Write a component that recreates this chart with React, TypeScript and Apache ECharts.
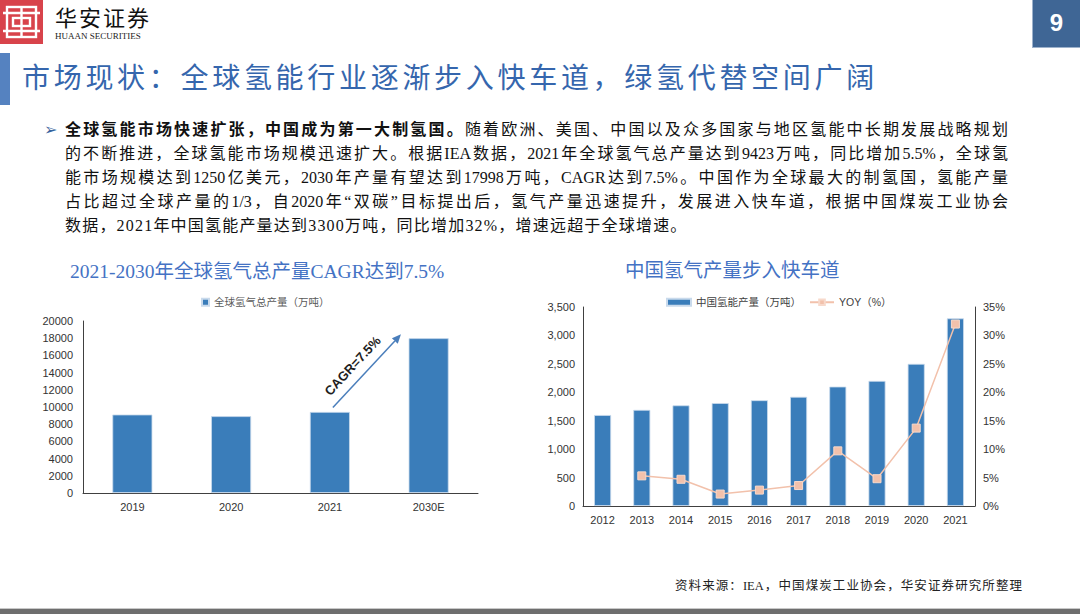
import React, { useEffect, useRef } from "react";
import * as echarts from "echarts";

// ---------- data ----------
const globalYears = ["2019", "2020", "2021", "2030E"];
const globalOutput = [9120, 8930, 9423, 17998];
const globalSeriesName = "全球氢气总产量（万吨）";

const chinaYears = ["2012", "2013", "2014", "2015", "2016", "2017", "2018", "2019", "2020", "2021"];
const chinaOutput = [1600, 1690, 1770, 1810, 1860, 1920, 2100, 2200, 2500, 3300];
const chinaYoy: (number | null)[] = [null, 5.3, 4.7, 2.1, 2.8, 3.6, 9.7, 4.8, 13.7, 32.0];
const chinaBarName = "中国氢能产量（万吨）";
const chinaLineName = "YOY（%）";

const leftAxisRange = { min: 0, max: 20000, interval: 2000 };
const chinaAxisRange = { min: 0, max: 3500, interval: 500 };
const yoyAxisRange = { min: 0, max: 35, interval: 5 };

const cagrLabel = "CAGR=7.5%";

const paragraphLines = [
  "的不断推进，全球氢能市场规模迅速扩大。根据IEA数据，2021年全球氢气总产量达到9423万吨，同比增加5.5%，全球氢",
  "能市场规模达到1250亿美元，2030年产量有望达到17998万吨，CAGR达到7.5%。中国作为全球最大的制氢国，氢能产量",
  "占比超过全球产量的1/3，自2020年“双碳”目标提出后，氢气产量迅速提升，发展进入快车道，根据中国煤炭工业协会",
];
const paragraphBold = "全球氢能市场快速扩张，中国成为第一大制氢国。";
const paragraphFirstRest = "随着欧洲、美国、中国以及众多国家与地区氢能中长期发展战略规划";
const paragraphLast = "数据，2021年中国氢能产量达到3300万吨，同比增加32%，增速远超于全球增速。";

const pageTitle = "市场现状：全球氢能行业逐渐步入快车道，绿氢代替空间广阔";
const leftChartTitle = "2021-2030年全球氢气总产量CAGR达到7.5%";
const rightChartTitle = "中国氢气产量步入快车道";
const sourceNote = "资料来源：IEA，中国煤炭工业协会，华安证券研究所整理";

// ---------- styles ----------
const SERIF = '"Liberation Serif", "Noto Sans CJK SC", serif';
const SANS = '"Liberation Sans", "Noto Sans CJK SC", sans-serif';
const BAR_COLOR = "#3A7DBA";
const LINE_COLOR = "#F2C1AB";
const TITLE_BLUE = "#4472C4";

export default function App() {
  const ref = useRef<HTMLDivElement>(null);

  useEffect(() => {
    document.body.style.margin = "0";
    if (!ref.current) return;
    const chart = echarts.init(ref.current, undefined, { renderer: "svg" });

    const axisLineStyle = { lineStyle: { color: "#404040", width: 1 } };
    const labelStyle = { color: "#333333", fontSize: 11, fontFamily: SANS };

    chart.setOption({
      animation: false,
      backgroundColor: "transparent",
      title: [
        {
          text: leftChartTitle,
          left: 65,
          top: 257,
          textStyle: { color: TITLE_BLUE, fontSize: 19.5, fontWeight: "normal", fontFamily: SERIF },
        },
        {
          text: rightChartTitle,
          left: 620,
          top: 256,
          textStyle: { color: TITLE_BLUE, fontSize: 19.5, fontWeight: "normal", fontFamily: SERIF },
        },
      ],
      legend: [
        {
          data: [{ name: globalSeriesName, icon: "rect" }],
          left: 196,
          top: 292,
          itemWidth: 7,
          itemHeight: 7,
          itemGap: 4,
          textStyle: { color: "#595959", fontSize: 10.5, fontFamily: SERIF },
        },
        {
          data: [{ name: chinaBarName, icon: "rect" }, { name: chinaLineName }],
          left: 661,
          top: 292,
          itemWidth: 24,
          itemHeight: 7,
          itemGap: 8,
          textStyle: { color: "#404040", fontSize: 10.5, fontFamily: SANS },
        },
      ],
      grid: [
        { left: 83, top: 321, width: 395, height: 172 },
        { left: 583, top: 307, width: 392, height: 199 },
      ],
      xAxis: [
        {
          type: "category",
          gridIndex: 0,
          data: globalYears,
          axisLine: axisLineStyle,
          axisTick: { inside: true, length: 4, lineStyle: { color: "#404040" } },
          axisLabel: { ...labelStyle, margin: 8 },
        },
        {
          type: "category",
          gridIndex: 1,
          data: chinaYears,
          axisLine: axisLineStyle,
          axisTick: { inside: true, length: 4, lineStyle: { color: "#404040" } },
          axisLabel: { ...labelStyle, margin: 8 },
        },
      ],
      yAxis: [
        {
          type: "value",
          gridIndex: 0,
          ...leftAxisRange,
          axisLine: { show: true, ...axisLineStyle },
          axisTick: { show: false },
          splitLine: { show: false },
          axisLabel: { ...labelStyle, margin: 10, formatter: (v: number) => String(v) },
        },
        {
          type: "value",
          gridIndex: 1,
          ...chinaAxisRange,
          axisLine: { show: true, ...axisLineStyle },
          axisTick: { show: false },
          splitLine: { show: false },
          axisLabel: {
            ...labelStyle,
            margin: 8,
            formatter: (v: number) => v.toLocaleString("en-US"),
          },
        },
        {
          type: "value",
          gridIndex: 1,
          position: "right",
          ...yoyAxisRange,
          axisLine: { show: true, ...axisLineStyle },
          axisTick: { show: false },
          splitLine: { show: false },
          axisLabel: { ...labelStyle, margin: 8, formatter: "{value}%" },
        },
      ],
      series: [
        {
          type: "bar",
          name: globalSeriesName,
          xAxisIndex: 0,
          yAxisIndex: 0,
          data: globalOutput,
          barWidth: 40,
          itemStyle: { color: BAR_COLOR, borderColor: "#C9DAEC", borderWidth: 0.8 },
        },
        {
          type: "bar",
          name: chinaBarName,
          xAxisIndex: 1,
          yAxisIndex: 1,
          data: chinaOutput,
          barWidth: 17,
          itemStyle: { color: BAR_COLOR, borderColor: "#C9DAEC", borderWidth: 0.8 },
        },
        {
          type: "line",
          name: chinaLineName,
          xAxisIndex: 1,
          yAxisIndex: 2,
          data: chinaYoy,
          symbol: "rect",
          symbolSize: 8,
          z: 5,
          lineStyle: { color: LINE_COLOR, width: 1.5 },
          itemStyle: { color: LINE_COLOR, borderColor: "#F7D9CB", borderWidth: 1 },
        },
      ],
    });

    // CAGR arrow annotation computed from the axes
    const p2 = chart.convertToPixel({ xAxisIndex: 0, yAxisIndex: 0 }, ["2021", 9950]) as number[];
    const p3 = chart.convertToPixel({ xAxisIndex: 0, yAxisIndex: 0 }, ["2030E", 18450]) as number[];
    const sx = p2[0] + 3;
    const sy = p2[1];
    const ex = p2[0] + 0.72 * (p3[0] - p2[0]);
    const ey = p3[1];
    const dx = ex - sx;
    const dy = ey - sy;
    const len = Math.sqrt(dx * dx + dy * dy);
    const ux = dx / len;
    const uy = dy / len;
    const nx = uy;
    const ny = -ux;
    const headL = 9;
    const headW = 4;
    const bx = ex - ux * headL;
    const by = ey - uy * headL;
    const mx = (sx + ex) / 2 + nx * 14 - ux * 6;
    const my = (sy + ey) / 2 + ny * 14 - uy * 6;
    const rot = Math.atan2(-dy, dx);

    chart.setOption({
      graphic: [
        {
          type: "line",
          shape: { x1: sx, y1: sy, x2: bx, y2: by },
          style: { stroke: "#4A7EBB", lineWidth: 1.5 },
        },
        {
          type: "polygon",
          shape: {
            points: [
              [ex, ey],
              [bx + nx * headW, by + ny * headW],
              [bx - nx * headW, by - ny * headW],
            ],
          },
          style: { fill: "#4A7EBB" },
        },
        {
          type: "text",
          x: mx,
          y: my,
          rotation: rot,
          style: {
            text: cagrLabel,
            fill: "#1E1E1E",
            font: `bold 13px ${SANS}`,
            align: "center",
            verticalAlign: "middle",
          },
        },
      ],
    });

    return () => chart.dispose();
  }, []);

  const lineDiv = (top: number): React.CSSProperties => ({
    position: "absolute",
    left: 65,
    top,
    width: 943,
    height: 24,
    lineHeight: "24px",
    fontSize: 16,
    fontFamily: SERIF,
    color: "#111",
    textAlign: "justify",
    textAlignLast: "justify",
    overflow: "hidden",
  });

  return (
    <div
      style={{
        position: "absolute",
        left: 0,
        top: 0,
        width: 1080,
        height: 614,
        background: "#ffffff",
        overflow: "hidden",
      }}
    >
      {/* logo */}
      <svg style={{ position: "absolute", left: 0, top: 0 }} width={44} height={44}>
        <rect x={0} y={0} width={43} height={44} fill="#D8434B" />
        <g fill="none" stroke="#ffffff" strokeWidth={2.4}>
          <rect x={7} y={7} width={29} height={30} />
          <line x1={3} y1={13} x2={40} y2={13} />
          <line x1={3} y1={31} x2={40} y2={31} />
          <line x1={21.5} y1={7} x2={21.5} y2={37} />
          <rect x={13} y={18} width={17} height={8} />
        </g>
      </svg>
      <div
        style={{
          position: "absolute",
          left: 55,
          top: 2,
          fontSize: 22,
          lineHeight: "28px",
          fontFamily: '"Noto Sans CJK SC", sans-serif',
          letterSpacing: 2,
          color: "#111",
        }}
      >
        华安证券
      </div>
      <div
        style={{
          position: "absolute",
          left: 55,
          top: 30,
          fontSize: 9,
          lineHeight: "12px",
          fontFamily: SERIF,
          color: "#222",
        }}
      >
        HUAAN SECURITIES
      </div>

      {/* page number */}
      <div
        style={{
          position: "absolute",
          left: 1032,
          top: 0,
          width: 48,
          height: 48,
          background: "#3F6695",
          borderLeft: "1px solid #9DB2CC",
          borderBottom: "1px solid #9DB2CC",
          boxSizing: "border-box",
          color: "#fff",
          fontFamily: SANS,
          fontWeight: "bold",
          fontSize: 24,
          lineHeight: "46px",
          textAlign: "center",
        }}
      >
        9
      </div>

      {/* title bar */}
      <div style={{ position: "absolute", left: 0, top: 53, width: 10, height: 52, background: "#5582C0" }} />
      <div
        style={{
          position: "absolute",
          left: 22,
          top: 60,
          height: 38,
          lineHeight: "38px",
          fontSize: 28,
          letterSpacing: 3.7,
          whiteSpace: "nowrap",
          fontFamily: SERIF,
          color: "#3566AD",
        }}
      >
        {pageTitle}
      </div>

      {/* paragraph */}
      <div
        style={{
          position: "absolute",
          left: 44,
          top: 118,
          lineHeight: "24px",
          fontSize: 16,
          color: "#35649E",
          fontFamily: '"DejaVu Sans", sans-serif',
        }}
      >
        ➢
      </div>
      <div style={lineDiv(118)}>
        <b>{paragraphBold}</b>
        {paragraphFirstRest}
      </div>
      {paragraphLines.map((l, i) => (
        <div key={i} style={lineDiv(142 + i * 24)}>
          {l}
        </div>
      ))}
      <div style={{ ...lineDiv(214), textAlign: "left", textAlignLast: "left", letterSpacing: 1.2 }}>
        {paragraphLast}
      </div>

      {/* chart */}
      <div ref={ref} style={{ position: "absolute", left: 0, top: 0, width: 1080, height: 614 }} />

      {/* source */}
      <div
        style={{
          position: "absolute",
          left: 675,
          top: 576,
          width: 347,
          height: 20,
          lineHeight: "20px",
          fontSize: 12.5,
          fontFamily: SERIF,
          color: "#222",
          textAlign: "justify",
          textAlignLast: "justify",
          whiteSpace: "nowrap",
        }}
      >
        {sourceNote}
      </div>

      {/* bottom bar */}
      <div style={{ position: "absolute", left: 0, top: 608, width: 1080, height: 1, background: "#C8C8C8" }} />
      <div style={{ position: "absolute", left: 0, top: 609, width: 1080, height: 5, background: "#6E6E6E" }} />
    </div>
  );
}
